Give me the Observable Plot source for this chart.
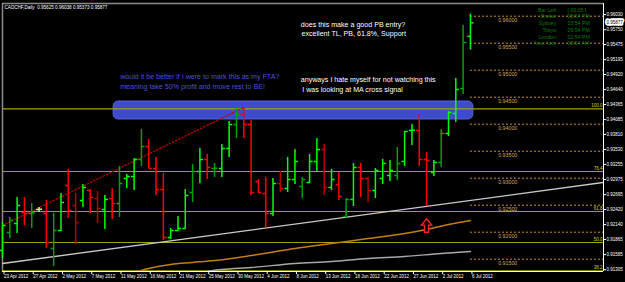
<!DOCTYPE html>
<html><head><meta charset="utf-8">
<script src="https://cdn.jsdelivr.net/npm/d3@7"></script>
<script src="https://cdn.jsdelivr.net/npm/@observablehq/plot@0.6"></script>
<style>
html,body{margin:0;padding:0;background:#000;}
#chart{width:625px;height:282px;overflow:hidden;background:#000;}
</style></head><body><div id="chart"></div>
<script>
// ---- data (CADCHF daily, 23 Apr 2012 – 6 Jul 2012, Sunday bars included) ----
const opens  = [0.91661,0.91994,0.92161,0.92365,0.92346,0.92420,0.92346,0.91698,0.92031,0.92865,0.92494,0.92587,0.92772,0.92624,0.92420,0.92624,0.92531,0.92994,0.93031,0.93346,0.93587,0.93180,0.92791,0.91902,0.92031,0.92069,0.92735,0.93124,0.93346,0.93180,0.93180,0.93550,0.93994,0.94180,0.93994,0.92939,0.92717,0.92346,0.92902,0.92809,0.92976,0.92846,0.92920,0.93309,0.93531,0.92828,0.92883,0.92291,0.92606,0.93198,0.92994,0.92772,0.92994,0.93050,0.93050,0.93309,0.93883,0.93883,0.93346,0.93106,0.93291,0.93828,0.94198,0.94661,0.95625];
const highs  = [0.92180,0.92272,0.92643,0.92643,0.92531,0.92457,0.92587,0.92346,0.92717,0.93161,0.92717,0.92883,0.92791,0.92754,0.92680,0.92809,0.93217,0.93069,0.93365,0.93902,0.93717,0.93383,0.93087,0.92069,0.92291,0.92791,0.93254,0.93550,0.93439,0.93272,0.93624,0.94050,0.94309,0.94309,0.94069,0.92976,0.93013,0.92994,0.93124,0.93383,0.93531,0.93013,0.93439,0.93735,0.93624,0.93161,0.93106,0.92624,0.93272,0.93272,0.93013,0.93180,0.93346,0.93328,0.93568,0.93865,0.93994,0.94180,0.93476,0.93328,0.93902,0.94235,0.94846,0.95828,0.96038];
const lows   = [0.91513,0.91883,0.91976,0.92124,0.92069,0.92365,0.91698,0.91365,0.92013,0.92254,0.91772,0.92457,0.92346,0.92161,0.92050,0.92235,0.92272,0.92809,0.92772,0.93217,0.93180,0.92680,0.91846,0.91865,0.92013,0.92050,0.92550,0.92902,0.92976,0.93013,0.93013,0.93383,0.93735,0.93735,0.92680,0.92717,0.92069,0.92291,0.92735,0.92735,0.92883,0.92624,0.92902,0.93124,0.92680,0.92772,0.92587,0.92254,0.92476,0.92643,0.92550,0.92624,0.92883,0.92939,0.92957,0.93217,0.93606,0.93217,0.92476,0.93031,0.93198,0.93772,0.94031,0.94550,0.95373];
const closes = [0.92124,0.92217,0.92494,0.92346,0.92360,0.92425,0.91809,0.92031,0.92550,0.92402,0.92180,0.92828,0.92643,0.92439,0.92606,0.92531,0.92902,0.93031,0.93346,0.93587,0.93180,0.92791,0.91902,0.92031,0.92069,0.92680,0.93124,0.93346,0.93198,0.93185,0.93550,0.93994,0.94180,0.93994,0.92735,0.92735,0.92346,0.92902,0.92809,0.92976,0.93309,0.92976,0.93309,0.93531,0.92828,0.92976,0.92661,0.92606,0.93198,0.92994,0.92772,0.93143,0.93272,0.93143,0.93272,0.93865,0.93890,0.93346,0.93328,0.93291,0.93828,0.94217,0.94643,0.95513,0.95877];
const tones  = ["up","up2","up","dn","up2","pale","dn","up2","up","dn","dn2","up","dn","dn2","up","dn","up2","up","up","up2","dn","dn","dn","up","up","up","up2","up","dn","up2","up","up","up2","dn","dn","dn","dn","up","dn2","up","up","up2","up","up","dn2","up","dn","up2","up","dn","dn2","up","up","up","up2","up","up","dn","dn","up","up2","up","up","up2","up"];

const tickDates = ["23 Apr 2012","27 Apr 2012","2 May 2012","7 May 2012","11 May 2012","16 May 2012","21 May 2012","25 May 2012","30 May 2012","4 Jun 2012","8 Jun 2012","13 Jun 2012","18 Jun 2012","22 Jun 2012","27 Jun 2012","2 Jul 2012","6 Jul 2012"];
const priceTicks = [0.96030,0.95750,0.95475,0.95195,0.94920,0.94640,0.94365,0.94085,0.93810,0.93530,0.93255,0.92975,0.92695,0.92420,0.92140,0.91865,0.91585,0.91305];
const roundLevels = [0.96,0.955,0.95,0.945,0.94,0.935,0.93,0.925,0.92,0.915];
const fibNames  = ["100.0","76.4","61.8","50.0","38.2"];
const fibPrices = [0.94285,0.93124,0.92383,0.91809,0.91285];

const maOrangeIdx  = [18,20,23,26,29,34,40,45,50,55,58,61,64];
const maOrangeVals = [0.91254,0.91328,0.91402,0.91439,0.91476,0.91568,0.91698,0.91791,0.91883,0.91976,0.92050,0.92142,0.92217];
const maGrayIdx  = [27,30,34,40,45,50,55,60,64];
const maGrayVals = [0.91254,0.91309,0.91346,0.91420,0.91457,0.91513,0.91550,0.91606,0.91643];

const trendIdx = [0,82.2];          const trendVals = [0.91420,0.92920];   // support TL
const redTlIdx = [0,33];            const redTlVals = [0.92124,0.94309];   // dotted red TL
const zoneIdx  = [15.2,64.4];       const zoneVals  = [0.94087,0.94420];   // blue highlighted zone
const arrowIdx = [58];              const arrowVals = [0.92124];

const header = "CADCHF,Daily  0.95625 0.96038 0.95373 0.95877";
const notes = [
  {t:"does this make a good PB entry?", i:40.8, p:0.95846, c:"#ffffff"},
  {t:"excellent TL, PB, 61.8%, Support", i:40.9, p:0.95680, c:"#ffffff"},
  {t:"anyways I hate myself for not watching this", i:40.8, p:0.94828, c:"#ffffff"},
  {t:"I was looking at MA cross signal", i:41.0, p:0.94643, c:"#ffffff"},
  {t:"would it be better if I were to mark this as my FTA?", i:16.1, p:0.94884, c:"#4b50d8"},
  {t:"meaning take 50% profit and move rest to BE!", i:16.1, p:0.94698, c:"#4b50d8"}
];
const infoLabels = ["Bar Left:","Broker:","Sydney:","Tokyo:","London:","New York:"];
const infoValues = ["[ 03:05 ]","08:54 PM","10:54 PM","09:54 PM","01:54 PM","08:54 AM"];

// ---- build ----
const days = d3.timeDay.range(new Date(2012,3,23), new Date(2012,6,7)).filter(d => d.getDay() !== 6);
const fmt = d3.timeFormat("%-d %b %Y");
const tickIdx = tickDates.map(s => days.findIndex(d => fmt(d) === s));
const toneColor = {up:"#00ff00", up2:"#00a000", dn:"#ff0000", dn2:"#b80000", pale:"#a8ffa8"};
const bars = opens.map((o,i) => ({i, o, h:highs[i], l:lows[i], c:closes[i], col:toneColor[tones[i]]}));
const last = bars.length - 1;
const xDom = [0, 82.2], yDom = [0.91272, 0.96235];
const pts = (xs, ys) => xs.map((x,k) => ({x, y:ys[k]}));

const arrowSymbol = {draw(ctx, size){
  const h = Math.sqrt(size)/2;
  ctx.moveTo(0,-h); ctx.lineTo(0.75*h,-0.05*h); ctx.lineTo(0.3*h,-0.05*h); ctx.lineTo(0.3*h,h);
  ctx.lineTo(-0.3*h,h); ctx.lineTo(-0.3*h,-0.05*h); ctx.lineTo(-0.75*h,-0.05*h); ctx.closePath();
}};

const font = "Liberation Sans, Arial, sans-serif";
const plot = Plot.plot({
  width: 625, height: 282,
  marginLeft: 2, marginRight: 22, marginTop: 3, marginBottom: 11,
  style: {background:"#000", color:"#fff", fontFamily: font, fontSize:"4.5px", overflow:"visible"},
  x: {type:"linear", domain: xDom, axis: null},
  y: {type:"linear", domain: yDom, axis: null},
  color: {type:"identity"},
  marks: [
    Plot.ruleY([yDom[1]], {stroke:"#8a8a8a", strokeWidth:1.5}),
    Plot.ruleX([xDom[0]], {stroke:"#8a8a8a", strokeWidth:1.5}),
    // blue zone
    Plot.rect([0], {x1: () => zoneIdx[0], x2: () => zoneIdx[1], y1: () => zoneVals[0], y2: () => zoneVals[1],
      fill:"#3e4bcc", stroke:"#5563dd", strokeWidth:1, rx:5}),
    // fib levels
    Plot.ruleY(fibPrices, {stroke:"#a3a300", strokeWidth:1.2}),
    Plot.text(fibPrices, {y: d => d, x: () => xDom[1], text: (d,k) => fibNames[k], textAnchor:"end", dx:-1, dy:-3, fill:"#d4d400", fontSize:4.5}),
    // round number dotted levels
    Plot.ruleY(roundLevels, {x1: () => last, x2: () => xDom[1], stroke:"#d0922e", strokeDasharray:"2,2", strokeWidth:1}),
    Plot.text(roundLevels, {y: d => d, x: () => 69.1, text: d => d3.format(".5f")(d), dy:4, fill:"#d2a560", fontSize:5.3}),
    // trend lines and MAs
    Plot.line(pts(redTlIdx, redTlVals), {x:"x", y:"y", stroke:"#c00000", strokeWidth:1.2, strokeDasharray:"1.5,2"}),
    Plot.line(pts(trendIdx, trendVals), {x:"x", y:"y", stroke:"#c9c9c9", strokeWidth:1.4, clip:true}),
    Plot.line(pts(maGrayIdx, maGrayVals), {x:"x", y:"y", stroke:"#a8a8a8", strokeWidth:1.4, curve:"monotone-x", clip:true}),
    Plot.line(pts(maOrangeIdx, maOrangeVals), {x:"x", y:"y", stroke:"#c27d14", strokeWidth:1.5, curve:"monotone-x", clip:true}),
    // OHLC bars
    Plot.ruleX(bars, {x:"i", y1:"l", y2:"h", stroke:"col", strokeWidth:1.5}),
    Plot.link(bars, {x1: d => d.i - 0.42, x2:"i", y1:"o", y2:"o", stroke:"col", strokeWidth:1.5}),
    Plot.link(bars, {x1:"i", x2: d => d.i + 0.42, y1:"c", y2:"c", stroke:"col", strokeWidth:1.5}),
    // arrow
    Plot.dot(pts(arrowIdx, arrowVals), {x:"x", y:"y", symbol: arrowSymbol, r:7.6, stroke:"#ff2020", strokeWidth:1.4, fill:"#000"}),
    // notes
    Plot.text(notes, {x:"i", y:"p", text:"t", fill:"c", textAnchor:"start", fontSize:7.1}),
    // header
    Plot.text([header], {frameAnchor:"top-left", text: d => d, textAnchor:"start", lineAnchor:"top", dx:2, dy:2, fill:"#fff", fontSize:4.6}),
    // info panel
    Plot.text([infoLabels.join("\n")], {frameAnchor:"top-right", text: d => d, textAnchor:"end", lineAnchor:"top", dx:-46, dy:3.5, lineHeight:1.29, fill:"#0b7a0b", fontSize:5.2}),
    Plot.text([infoValues.join("\n")], {frameAnchor:"top-right", text: d => d, textAnchor:"start", lineAnchor:"top", dx:-36, dy:3.5, lineHeight:1.29, fill:"#0b7a0b", fontSize:5.2}),
    // axes
    Plot.ruleY([yDom[0]], {stroke:"#fff", strokeWidth:1}),
    Plot.ruleX([xDom[1]], {stroke:"#fff", strokeWidth:1}),
    Plot.axisY(priceTicks, {anchor:"right", tickSize:2, tickPadding:1, tickFormat: d3.format(".5f"), color:"#fff", fontSize:4.5}),
    Plot.axisX(tickIdx, {anchor:"bottom", tickSize:3, tickPadding:0.5, tickFormat: i => fmt(days[i]), textAnchor:"start", dx:1.5, color:"#fff", fontSize:4.5}),
    Plot.text([closes[last]], {x: () => xDom[1], y: d => d, text: d => d3.format(".5f")(d), textAnchor:"start", dx:3, fill:"#000", stroke:"#fff", strokeWidth:3.5, fontSize:4.5})
  ]
});
document.getElementById("chart").appendChild(plot);
</script>
</body></html>
